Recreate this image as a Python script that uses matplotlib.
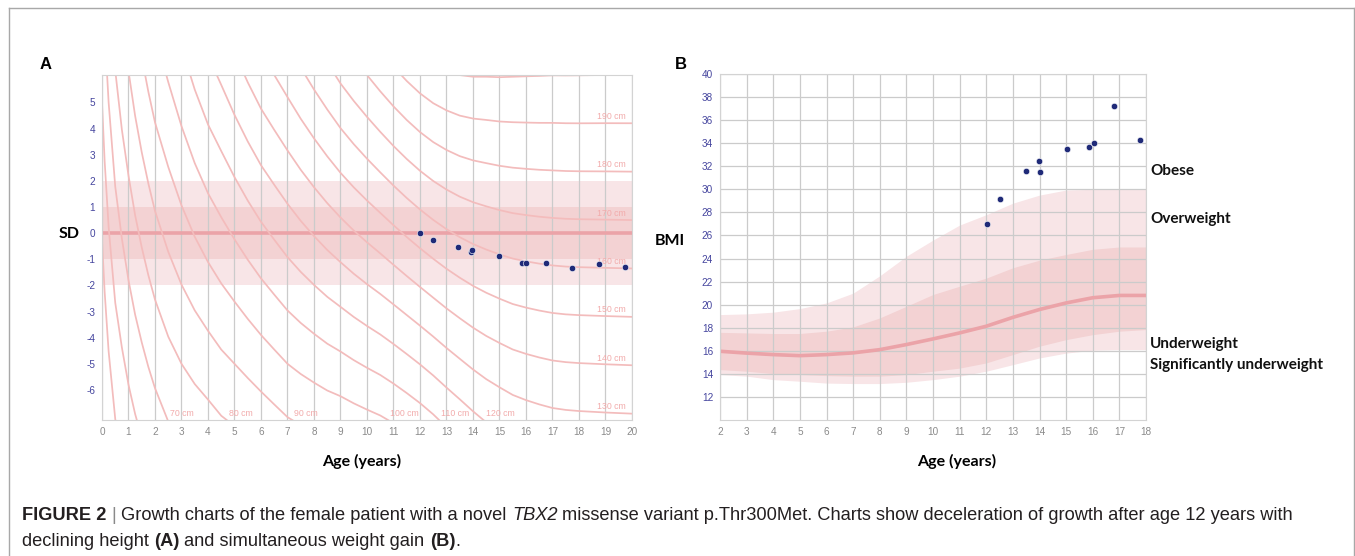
import numpy as np
import matplotlib
matplotlib.use('Agg')
import matplotlib.pyplot as plt
from matplotlib.lines import Line2D

W, H = 1355, 556

# height reference (girls): age, median height (cm), SD (cm)
ref_age = [0, 0.1, 0.25, 0.5, 0.75, 1, 1.25, 1.5, 1.75, 2, 2.5, 3, 3.5, 4, 4.5,
           5, 5.5, 6, 6.5, 7, 7.5, 8, 8.5, 9, 9.5, 10, 10.5, 11, 11.5, 12,
           12.5, 13, 13.5, 14, 14.5, 15, 15.5, 16, 16.5, 17, 17.5, 18, 19, 20]
ref_median = [50.5, 54.5, 59.5, 66.0, 70.5, 74.5, 78.2, 81.5, 84.6, 87.5, 92.2, 96.5, 100.5, 104.2, 107.6,
              111.0, 114.5, 118.0, 121.2, 124.5, 127.6, 130.6, 133.6, 136.5, 139.4, 142.2, 145.0, 148.0, 151.0, 153.9,
              156.6, 159.0, 161.0, 162.6, 163.8, 164.8, 165.6, 166.1, 166.5, 166.8, 167.0, 167.1, 167.2, 167.3]
ref_sd = [1.9, 2.0, 2.1, 2.25, 2.4, 2.5, 2.63, 2.75, 2.85, 2.95, 3.08, 3.3, 3.55, 3.8, 3.95,
          4.2, 4.42, 4.62, 4.76, 4.9, 5.12, 5.35, 5.58, 5.85, 6.05, 6.25, 6.45, 6.6, 6.7, 6.75,
          6.72, 6.6, 6.45, 6.25, 6.05, 5.9, 5.75, 5.65, 5.57, 5.5, 5.47, 5.45, 5.42, 5.4]
iso_heights = [50, 60, 70, 80, 90, 100, 110, 120, 130, 140, 150, 160, 170, 180, 190, 200]
bottom_labeled = [70, 80, 90, 100, 110, 120]
right_labeled = [130, 140, 150, 160, 170, 180, 190]

# patient height SDS
pat_age_a = [12.0, 12.48, 13.45, 13.93, 13.95, 14.98, 15.84, 16.0, 16.74, 17.73, 18.76, 19.74]
pat_sds = [0.0, -0.28, -0.55, -0.72, -0.64, -0.89, -1.13, -1.16, -1.16, -1.34, -1.2, -1.3]

# BMI reference bands
bmi_age = list(range(2, 19))
bmi_outer_lo = [13.94, 13.8, 13.5, 13.36, 13.2, 13.16, 13.16, 13.27, 13.5, 13.8, 14.23, 14.8, 15.38, 15.8, 16.05, 16.1, 16.1]
bmi_inner_lo = [14.37, 14.23, 14.02, 13.94, 13.85, 13.8, 13.8, 13.94, 14.23, 14.5, 14.95, 15.67, 16.4, 16.97, 17.4, 17.7, 17.84]
bmi_median = [15.96, 15.8, 15.67, 15.58, 15.67, 15.82, 16.1, 16.54, 17.03, 17.55, 18.13, 18.9, 19.58, 20.15, 20.6, 20.8, 20.8]
bmi_inner_hi = [17.6, 17.55, 17.5, 17.5, 17.7, 18.07, 18.85, 19.86, 20.88, 21.6, 22.3, 23.2, 23.86, 24.35, 24.8, 25.0, 25.0]
bmi_outer_hi = [19.14, 19.2, 19.35, 19.66, 20.15, 21.0, 22.5, 24.2, 25.6, 26.9, 27.8, 28.8, 29.5, 29.94, 30.0, 30.0, 30.0]

# patient BMI
pat_age_b = [12.02, 12.52, 13.48, 13.98, 14.0, 15.03, 15.87, 16.04, 16.79, 17.78]
pat_bmi = [26.96, 29.13, 31.57, 32.43, 31.51, 33.54, 33.68, 34.06, 37.22, 34.32]

bmi_categories = ['Obese', 'Overweight', 'Underweight', 'Significantly underweight']
bmi_category_y = [31.6, 27.4, 16.6, 14.8]

BAND_LIGHT = '#f8e5e7'
BAND_DARK = '#f3d2d3'
MID_LINE = '#eba3a8'
ISO = '#f3bcbc'
ISO_TXT = '#f2abab'
DOT = '#1f2a78'
GRID = '#cbcbcb'
YTICK = '#45459e'
XTICK = '#8a8a8a'
LABEL_FONT = ['Lato', 'DejaVu Sans']

plt.rcParams['font.family'] = ['Liberation Sans', 'DejaVu Sans']
plt.rcParams['axes.unicode_minus'] = False

fig = plt.figure(figsize=(W / 100, H / 100), dpi=100)


def fx(px):
    return px / W


def fy(py):
    return 1 - py / H


# outer frame
for xs, ys in [([9, 1354], [8, 8]), ([9, 9], [8, H]), ([1354, 1354], [8, H])]:
    fig.add_artist(Line2D([fx(x) for x in xs], [fy(y) for y in ys], color='#a8a8a8', lw=1.0))

# ---------- panel A ----------
axA = fig.add_axes([fx(102), fy(420), (632 - 102) / W, 345 / H])
ylo, yhi = -7.15, 6.05
axA.set_xlim(0, 20)
axA.set_ylim(ylo, yhi)
axA.axhspan(-2, 2, color=BAND_LIGHT, lw=0, zorder=0.5)
axA.axhspan(-1, 1, color=BAND_DARK, lw=0, zorder=0.6)
axA.axhline(0, color=MID_LINE, lw=2.6, zorder=1.8)

age = np.array(ref_age)
med = np.array(ref_median)
sd = np.array(ref_sd)
for h in iso_heights:
    z = (h - med) / sd
    axA.plot(age, z, color=ISO, lw=1.25, zorder=2)
    if h in bottom_labeled:
        x_exit = np.interp(ylo, z[::-1], age[::-1])
        axA.text(x_exit + 0.08, -6.9, f'{h} cm', color=ISO_TXT, fontsize=6.3,
                 ha='left', va='center', zorder=2.5)
    if h in right_labeled:
        axA.text(19.78, z[-1] + 0.27, f'{h} cm', color=ISO_TXT, fontsize=6.3,
                 ha='right', va='center', zorder=2.5)

axA.plot(pat_age_a, pat_sds, 'o', color=DOT, ms=4.6, mec='white', mew=0.4, zorder=4)

axA.set_xticks(range(0, 21))
axA.set_yticks(range(-6, 6))
axA.grid(axis='x', color=GRID, lw=0.9)
axA.tick_params(length=0, labelsize=7.2)
axA.tick_params(axis='y', colors=YTICK, pad=5)
axA.tick_params(axis='x', colors=XTICK, pad=5)
for s in axA.spines.values():
    s.set_color('#d3d3d3')

# ---------- panel B ----------
axB = fig.add_axes([fx(720), fy(420), (1146 - 720) / W, 346 / H])
axB.set_xlim(2, 18)
axB.set_ylim(10, 40)
axB.fill_between(bmi_age, bmi_outer_lo, bmi_outer_hi, color=BAND_LIGHT, lw=0, zorder=0.5)
axB.fill_between(bmi_age, bmi_inner_lo, bmi_inner_hi, color=BAND_DARK, lw=0, zorder=0.6)
axB.plot(bmi_age, bmi_median, color=MID_LINE, lw=2.6, zorder=2)
axB.plot(pat_age_b, pat_bmi, 'o', color=DOT, ms=4.6, mec='white', mew=0.4, zorder=4)

axB.set_xticks(range(2, 19))
axB.set_yticks(range(12, 41, 2))
axB.grid(color=GRID, lw=0.9)
axB.tick_params(length=0, labelsize=7.2)
axB.tick_params(axis='y', colors=YTICK, pad=5)
axB.tick_params(axis='x', colors=XTICK, pad=5)
for s in axB.spines.values():
    s.set_color('#d3d3d3')

for name, yv in zip(bmi_categories, bmi_category_y):
    axB.text(18.15, yv, name, fontsize=11, fontweight='bold', family=LABEL_FONT,
             ha='left', va='center', color='#111111', clip_on=False)

# axis labels and panel letters
fig.text(fx(69), fy(234), 'SD', fontsize=11.5, fontweight='bold', family=LABEL_FONT, ha='center', va='center')
fig.text(fx(670), fy(241), 'BMI', fontsize=11.5, fontweight='bold', family=LABEL_FONT, ha='center', va='center')
fig.text(fx(362), fy(461), 'Age (years)', fontsize=11.5, fontweight='bold', family=LABEL_FONT, ha='center', va='center')
fig.text(fx(957), fy(461), 'Age (years)', fontsize=11.5, fontweight='bold', family=LABEL_FONT, ha='center', va='center')
fig.text(fx(46), fy(65), 'A', fontsize=12, fontweight='bold', ha='center', va='center')
fig.text(fx(681), fy(65), 'B', fontsize=12, fontweight='bold', ha='center', va='center')

# caption with mixed styles
renderer = fig.canvas.get_renderer()
CAP = '#231f20'
CAP_SIZE = 13.15


def text_width(s, **kw):
    t = fig.text(0, 0, s, fontsize=CAP_SIZE, **kw)
    w = t.get_window_extent(renderer).width
    t.remove()
    return w


space_w = text_width('a a') - text_width('aa')


def put_runs(x_px, y_px, runs):
    x = x_px
    for s, kw, gap in runs:
        t = fig.text(fx(x), fy(y_px), s, fontsize=CAP_SIZE, ha='left', va='center',
                     color=kw.pop('color', CAP), **kw)
        x += t.get_window_extent(renderer).width + (space_w if gap else 0)


put_runs(22, 515, [
    ('FIGURE 2', dict(fontweight='bold'), True),
    ('|', dict(color='#8a8a8a'), True),
    ('Growth charts of the female patient with a novel', {}, True),
    ('TBX2', dict(style='italic'), True),
    ('missense variant p.Thr300Met. Charts show deceleration of growth after age 12 years with', {}, False),
])
put_runs(22, 541, [
    ('declining height', {}, True),
    ('(A)', dict(fontweight='bold'), True),
    ('and simultaneous weight gain', {}, True),
    ('(B)', dict(fontweight='bold'), False),
    ('.', {}, False),
])

fig.savefig('out.png', dpi=100)
